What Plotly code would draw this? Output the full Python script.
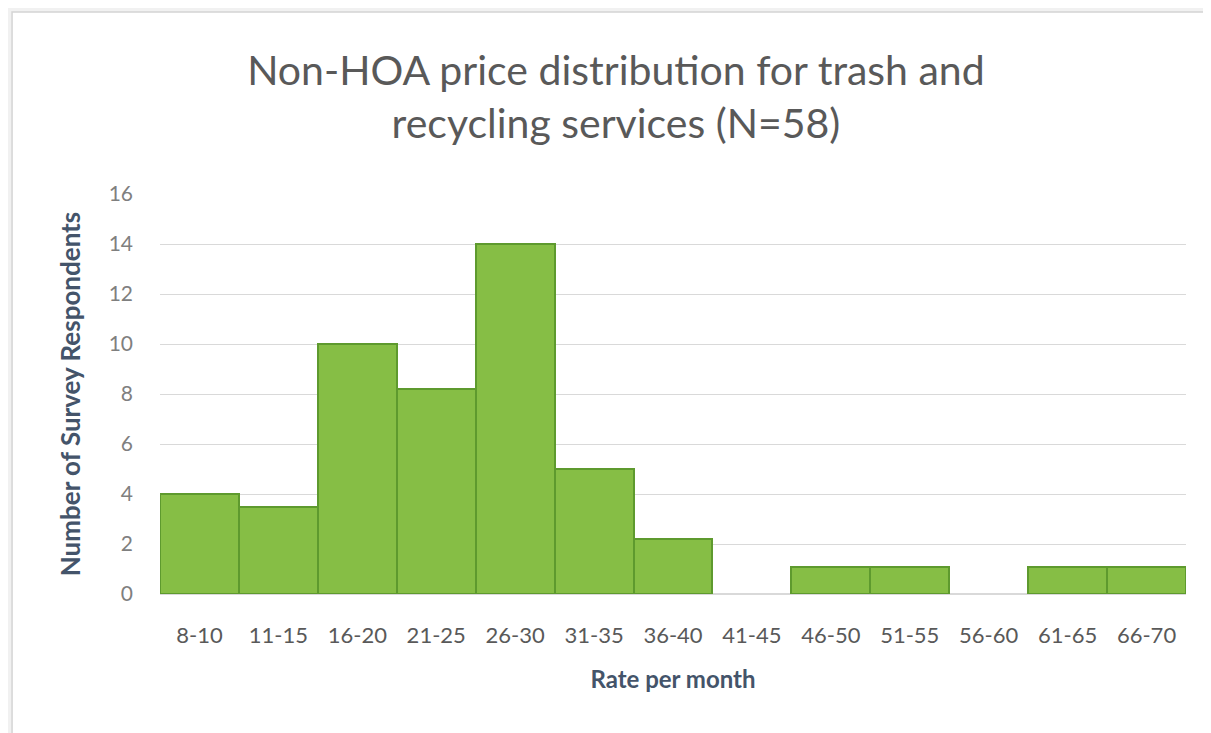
import plotly.graph_objects as go

# ---------- Data ---------- #
rate_bins = ['8-10', '11-15', '16-20', '21-25', '26-30', '31-35', '36-40',
             '41-45', '46-50', '51-55', '56-60', '61-65', '66-70']
respondents = [4, 3.5, 10, 8.2, 14, 5, 2.2, 0, 1.1, 1.1, 0, 1.1, 1.1]
y_ticks = [0, 2, 4, 6, 8, 10, 12, 14, 16]

FONT = "Lato"

# no outline on empty bins
outline_widths = [2 if v > 0 else 0 for v in respondents]

fig = go.Figure(
    go.Bar(
        x=rate_bins,
        y=respondents,
        marker=dict(color='#86BE45', line=dict(color='#5E9A2E', width=outline_widths)),
        width=1,
        hoverinfo='x+y'
    )
)

fig.update_layout(
    width=1211,
    height=733,
    margin=dict(l=152, r=33, t=186, b=147),
    paper_bgcolor='#f1f1f1',
    plot_bgcolor='white',
    showlegend=False,
    bargap=0,
    title=dict(
        text="Non-HOA price distribution for trash and<br>recycling services (N=58)",
        x=0.502, xref='container', xanchor='center',
        y=0.895, yref='container', yanchor='middle',
        font=dict(family=FONT, size=41, color='#595959')
    ),
    font=dict(family=FONT),
    shapes=[
        # chart frame
        dict(type='rect', xref='paper', yref='paper',
             x0=-0.1442, x1=1.05, y0=-0.40, y1=1.455,
             fillcolor='white', line=dict(color='#d4d4d4', width=1.5),
             layer='below')
    ]
)

fig.update_xaxes(
    automargin=False,
    showgrid=False,
    showline=False,
    ticks='',
    ticklabelstandoff=26,
    tickfont=dict(family=FONT, size=22, color='#595959'),
    title=dict(text='<b>Rate per month</b>', standoff=24,
               font=dict(family=FONT, size=24, color='#44546A'))
)

fig.update_yaxes(
    automargin=False,
    range=[0, 16],
    tickvals=y_ticks,
    showgrid=True,
    gridcolor='#d9d9d9',
    gridwidth=1.2,
    zeroline=True,
    zerolinecolor='#d9d9d9',
    zerolinewidth=1.5,
    ticks='',
    ticklabelstandoff=26,
    tickfont=dict(family=FONT, size=21, color='#7f7f7f'),
    title=dict(text='<b>Number of Survey Respondents</b>', standoff=20,
               font=dict(family=FONT, size=26, color='#44546A'))
)

fig.write_html("out.html")
